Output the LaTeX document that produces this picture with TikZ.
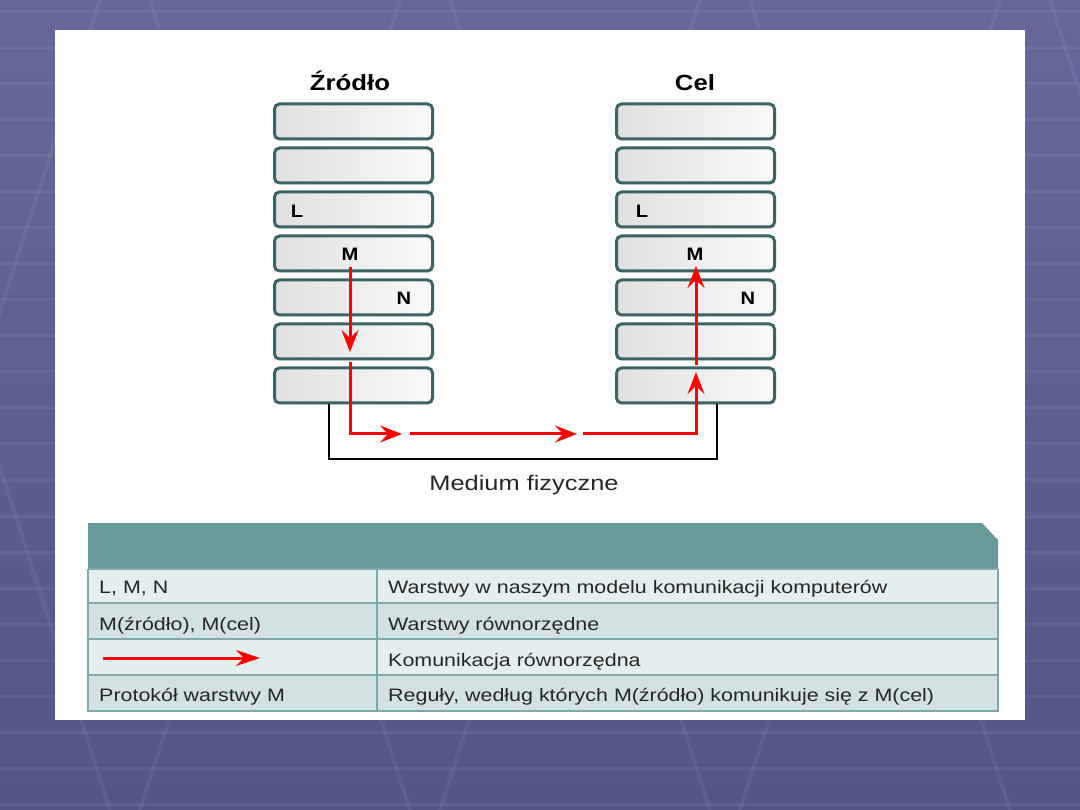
\documentclass[tikz,border=0pt]{standalone}
\usepackage{fontspec}
\setmainfont{Liberation Sans}
\usetikzlibrary{arrows.meta,shadows}
\definecolor{bgtop}{HTML}{67679B}
\definecolor{bgbot}{HTML}{55558A}
\definecolor{boxedge}{HTML}{3C6464}
\definecolor{boxl}{HTML}{E0E0E0}
\definecolor{boxr}{HTML}{FAFAFA}
\definecolor{hdr}{HTML}{679A9A}
\definecolor{rowa}{HTML}{E3EEEE}
\definecolor{rowb}{HTML}{D2E2E2}
\definecolor{grid}{HTML}{80A8A8}
\definecolor{redarrow}{HTML}{FF0000}
\begin{document}
\begin{tikzpicture}[x=1pt,y=-1pt,
  layer/.style={draw=boxedge, line width=3pt, rounded corners=5pt,
    left color=boxl, right color=boxr, minimum width=158pt, minimum height=35pt,
    inner sep=0pt, drop shadow={shadow xshift=1pt, shadow yshift=-1.5pt, opacity=0.25}},
  title/.style={font=\fontsize{22}{22}\selectfont\bfseries, inner sep=0pt, xscale=1.17, anchor=base},
  lbl/.style={font=\fontsize{18}{18}\selectfont\bfseries, inner sep=0pt, xscale=1.12},
  redline/.style={draw=redarrow, line width=3pt},
  redtip/.style={-{Stealth[length=22pt,width=17pt,inset=8pt]}},
  medium/.style={draw=black, line width=2.8pt},
  cell/.style={font=\fontsize{18}{18}\selectfont, inner sep=0pt, anchor=base west, text=black!85, xscale=1.19},
  caption/.style={font=\fontsize{21}{21}\selectfont, inner sep=0pt, text=black!85, xscale=1.21, anchor=base}
]
\useasboundingbox (0,0) rectangle (1080,810);
% background
\shade[top color=bgtop, bottom color=bgbot] (0,0) rectangle (1080,810);
\foreach \yy in {12,48,84,120,156,192,228,264,300,336,372,408,444,480,516,552,588,624,660,696,732,768,804}
  \draw[white, opacity=0.06, line width=3pt] (0,\yy) -- (1080,\yy);
\foreach \xx in {-150,150,450,750,1050}
  \draw[white, opacity=0.06, line width=4pt] (\xx,0) -- (\xx+260,810);
\foreach \xx in {100,400,700,1000}
  \draw[white, opacity=0.06, line width=4pt] (\xx,0) -- (\xx-260,810);
% white panel
\fill[white] (55,30) rectangle (1025,720);

% titles
\node[title] (tsrc) at (350,91) {Źródło};
\node[title] (tdst) at (695,91) {Cel};

% stacks
\foreach \i/\yy in {1/121.5,2/165.5,3/209.5,4/253.5,5/297.5,6/341.5,7/385.5}{
  \node[layer] (s\i) at (353.5,\yy) {};
  \node[layer] (t\i) at (695.5,\yy) {};
}
\node[lbl] (sL) at (297,211) {L};
\node[lbl] (sM) at (350,254) {M};
\node[lbl] (sN) at (404,298) {N};
\node[lbl] (tL) at (642,211) {L};
\node[lbl] (tM) at (695,254) {M};
\node[lbl] (tN) at (748,298) {N};

% physical medium
\coordinate (mA) at (329,404);
\coordinate (mB) at (329,459);
\coordinate (mC) at (717,459);
\coordinate (mD) at (717,404);
\draw[medium] (mA) -- (mB) -- (mC) -- (mD);
\node[caption] (med) at (524,490) {Medium fizyczne};

% red communication path
\coordinate (r1) at (350,267);
\coordinate (r2) at (350,352);
\coordinate (r3) at (350,362);
\coordinate (r4) at (350,434);
\coordinate (r5) at (402,434);
\coordinate (r6) at (410,434);
\coordinate (r7) at (577,434);
\coordinate (r8) at (583,434);
\coordinate (r9) at (696,434);
\coordinate (r10) at (696,372);
\coordinate (r11) at (696,365);
\coordinate (r12) at (696,266);
\draw[redline, redtip] (r1) -- (r2);
\draw[redline, redtip] (r3) -- (r4) -- (r5);
\draw[redline, redtip] (r6) -- (r7);
\draw[redline, redtip] (r8) -- (r9) -- (r10);
\draw[redline, redtip] (r11) -- (r12);

% table
\fill[hdr] (88,523) -- (982,523) -- (998,540) -- (998,569) -- (88,569) -- cycle;
\fill[rowa] (88,569) rectangle (998,603);
\fill[rowb] (88,603) rectangle (998,639);
\fill[rowa] (88,639) rectangle (998,675);
\fill[rowb] (88,675) rectangle (998,711);
\foreach \yy in {569,603,639,675}
  \draw[grid, line width=1.5pt] (88,\yy) -- (998,\yy);
\draw[grid, line width=1.5pt] (377,569) -- (377,711);
\draw[grid, line width=1.5pt] (88,569) -- (88,711) -- (998,711) -- (998,569);

\node[cell] (c11) at (99,593) {L, M, N};
\node[cell] (c12) at (388,593) {Warstwy w naszym modelu komunikacji komputerów};
\node[cell] (c21) at (99,630) {M(źródło), M(cel)};
\node[cell] (c22) at (388,630) {Warstwy równorzędne};
\node[cell] (c32) at (388,666) {Komunikacja równorzędna};
\node[cell] (c41) at (99,701) {Protokół warstwy M};
\node[cell] (c42) at (388,701) {Reguły, według których M(źródło) komunikuje się z M(cel)};
\coordinate (la) at (103,658);
\coordinate (lb) at (260,658);
\draw[redline, -{Stealth[length=24pt,width=16pt,inset=8pt]}] (la) -- (lb);
\end{tikzpicture}
\end{document}
